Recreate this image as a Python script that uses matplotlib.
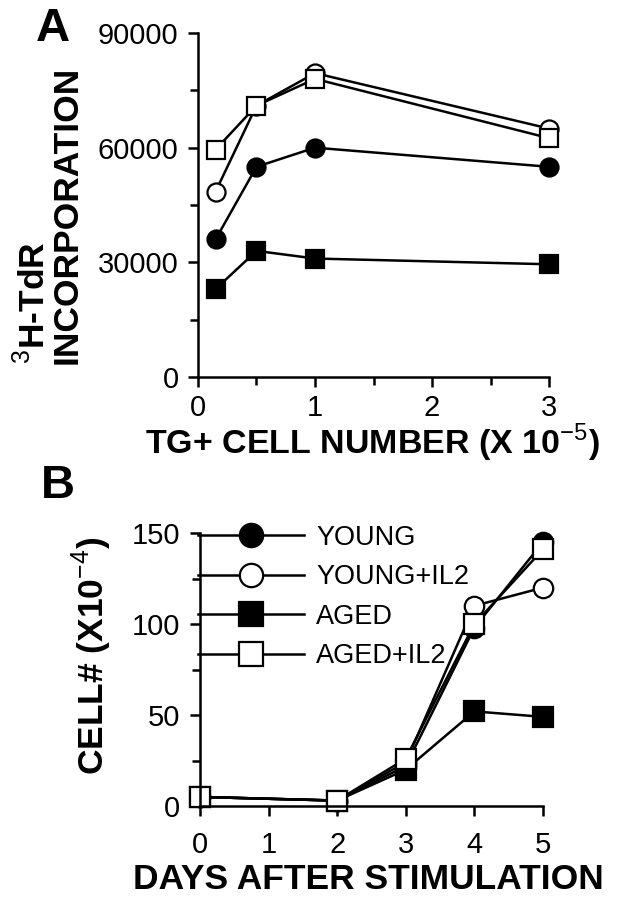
import matplotlib
matplotlib.use("Agg")
import matplotlib.pyplot as plt
from matplotlib.ticker import MultipleLocator

plt.rcParams["font.family"] = ["Liberation Sans", "DejaVu Sans"]
plt.rcParams["mathtext.fontset"] = "custom"
plt.rcParams["mathtext.rm"] = "Liberation Sans"
plt.rcParams["mathtext.bf"] = "Liberation Sans:bold"

# ---------- Data: panel A ----------
cell_number = [0.15, 0.5, 1, 3]
a_young = [36000, 55000, 60000, 55000]
a_young_il2 = [48500, 71000, 79500, 65000]
a_aged = [23000, 33000, 31000, 29500]
a_aged_il2 = [59500, 71000, 78000, 62500]

# ---------- Data: panel B ----------
days = [0, 2, 3, 4, 5]
b_young = [5, 3, 22, 98, 145]
b_young_il2 = [5, 3, 24, 110, 120]
b_aged = [5, 3, 20, 52, 49]
b_aged_il2 = [5, 3, 26, 100, 141]

series_names = ["YOUNG", "YOUNG+IL2", "AGED", "AGED+IL2"]
markers = ["o", "o", "s", "s"]
faces = ["black", "white", "black", "white"]

fig = plt.figure(figsize=(6.17, 8.99), dpi=100)

# ---------- Panel A ----------
axA = fig.add_axes([0.3209, 0.5806, 0.5689, 0.3827])
for vals, m, fc in zip([a_young, a_young_il2, a_aged, a_aged_il2], markers, faces):
    axA.plot(cell_number, vals, color="black", lw=1.8, marker=m, ms=13,
             mfc=fc, mec="black", mew=1.6, clip_on=False)
axA.set_xlim(0, 3)
axA.set_ylim(0, 90000)
axA.set_xticks([0, 1, 2, 3])
axA.set_yticks([0, 30000, 60000, 90000])
axA.xaxis.set_minor_locator(MultipleLocator(0.5))
axA.yaxis.set_minor_locator(MultipleLocator(15000))
axA.set_xlabel(r"TG+ CELL NUMBER (X 10$^{-5}$)", fontsize=24.5, fontweight="bold")
axA.xaxis.set_label_coords(0.496, -0.13)
axA.set_ylabel(r"$^{3}$H-TdR" + "\nINCORPORATION", fontsize=25.5, fontweight="bold",
               linespacing=0.95, multialignment="left")
axA.yaxis.set_label_coords(-0.327, 0.47)
fig.text(0.085, 0.968, "A", fontsize=34, fontweight="bold", ha="center", va="center")

# ---------- Panel B ----------
axB = fig.add_axes([0.324, 0.1034, 0.556, 0.3037])
for vals, m, fc, name in zip([b_young, b_young_il2, b_aged, b_aged_il2], markers, faces, series_names):
    axB.plot(days, vals, color="black", lw=1.8, marker=m, ms=14,
             mfc=fc, mec="black", mew=1.6, clip_on=False, label=name)
axB.set_xlim(0, 5)
axB.set_ylim(0, 150)
axB.set_xticks([0, 1, 2, 3, 4, 5])
axB.set_yticks([0, 50, 100, 150])
axB.yaxis.set_minor_locator(MultipleLocator(25))
axB.set_xlabel("DAYS AFTER STIMULATION", fontsize=25.5, fontweight="bold")
axB.xaxis.set_label_coords(0.49, -0.21)
axB.set_ylabel(r"CELL# (X10$^{-4}$)", fontsize=25.5, fontweight="bold")
axB.yaxis.set_label_coords(-0.25, 0.55)
leg = axB.legend(loc="upper left", bbox_to_anchor=(-0.02, 1.05), frameon=False,
                 fontsize=19.5, handlelength=3.9, handletextpad=0.45,
                 labelspacing=0.5, markerscale=1.2, borderaxespad=0, borderpad=0.2)
fig.text(0.094, 0.459, "B", fontsize=34, fontweight="bold", ha="center", va="center")

for ax in (axA, axB):
    for side in ("top", "right"):
        ax.spines[side].set_visible(False)
    for side in ("left", "bottom"):
        ax.spines[side].set_linewidth(1.8)
    ax.tick_params(which="major", length=7, width=1.8, labelsize=21)
    ax.tick_params(which="minor", length=6, width=1.8)
    ax.tick_params(axis="y", pad=7)
axA.tick_params(axis="x", pad=5)
axB.tick_params(axis="x", pad=11)

fig.savefig("out.png", dpi=100)
